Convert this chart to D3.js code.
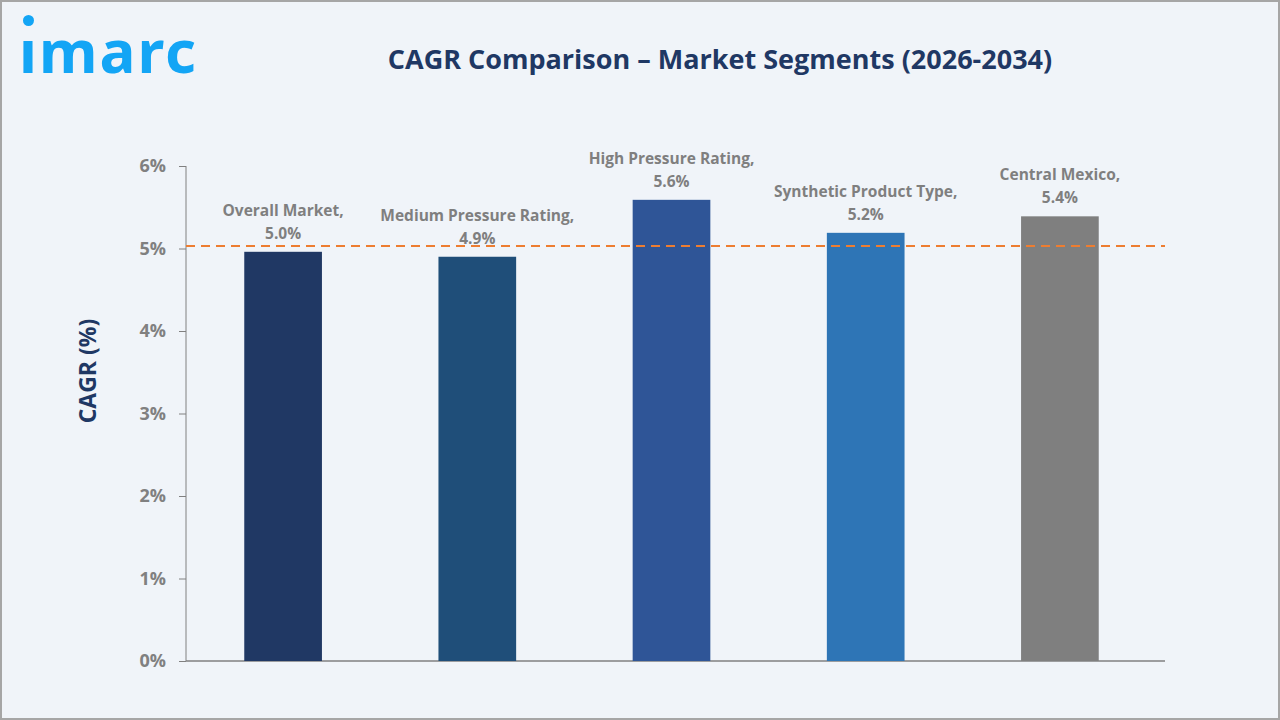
<!DOCTYPE html>
<html>
<head>
<meta charset="utf-8">
<script src="https://cdn.jsdelivr.net/npm/d3@7"></script>
<style>
  html, body { margin: 0; padding: 0; background: #f0f4f9; }
  svg { display: block; }
</style>
</head>
<body>
<div id="chart"></div>
<script>
const categories = [
  "Overall Market",
  "Medium Pressure Rating",
  "High Pressure Rating",
  "Synthetic Product Type",
  "Central Mexico"
];
const cagrValues = [4.96, 4.9, 5.59, 5.19, 5.39];
const cagrLabels = ["5.0%", "4.9%", "5.6%", "5.2%", "5.4%"];
const referenceValue = 5.03;
const yTicks = [0, 1, 2, 3, 4, 5, 6];

const barColours = ["#203864", "#1f4e79", "#2f5597", "#2e75b6", "#7f7f7f"];

const width = 1280;
const height = 720;
const margin = { top: 166, right: 115, bottom: 59, left: 186 };
const chartWidth = width - margin.left - margin.right;
const chartHeight = height - margin.top - margin.bottom;
const barsWidth = 971; // bars sit a bit short of the axis end

const svg = d3
  .select("#chart")
  .append("svg")
  .attr("width", width)
  .attr("height", height);

// background + frame
svg
  .append("rect")
  .attr("x", 1)
  .attr("y", 1)
  .attr("width", width - 2)
  .attr("height", height - 2)
  .attr("fill", "#f0f4f9")
  .attr("stroke", "#a6a6a6")
  .attr("stroke-width", 2);

// logo
svg
  .append("text")
  .attr("x", 19)
  .attr("y", 73)
  .style("font-family", "'Noto Sans', sans-serif")
  .style("font-weight", 700)
  .style("font-size", "60px")
  .style("letter-spacing", "2px")
  .style("fill", "#13a5f5")
  .text("\u0131marc");
svg
  .append("circle")
  .attr("cx", 28.5)
  .attr("cy", 20.5)
  .attr("r", 5.5)
  .attr("fill", "#13a5f5");

// title
svg
  .append("text")
  .attr("x", 720)
  .attr("y", 69)
  .attr("text-anchor", "middle")
  .style("font-family", "'Open Sans', sans-serif")
  .style("font-weight", 700)
  .style("font-size", "27px")
  .style("fill", "#1f3864")
  .text("CAGR Comparison \u2013 Market Segments (2026-2034)");

const chart = svg
  .append("g")
  .attr("transform", `translate(${margin.left},${margin.top})`);

const xScale = d3
  .scaleBand()
  .domain(categories)
  .range([0, barsWidth])
  .paddingInner(0.6)
  .paddingOuter(0.3);

const yScale = d3.scaleLinear().domain([0, 6]).range([chartHeight, 0]);

// y axis
const yAxis = d3
  .axisLeft(yScale)
  .tickValues(yTicks)
  .tickFormat(d => d + "%")
  .tickSize(7)
  .tickPadding(13);

const yy = chart.append("g").attr("class", "y axis").call(yAxis);
yy.select(".domain").attr("stroke", "#808080").attr("d", `M0,0V${chartHeight}`);
yy.selectAll(".tick line").attr("stroke", "#808080");
yy.selectAll(".tick text")
  .style("font-family", "'Open Sans', sans-serif")
  .style("font-weight", 700)
  .style("font-size", "18px")
  .style("fill", "#808080");

// x axis line only
const xx = chart
  .append("g")
  .attr("class", "x axis")
  .attr("transform", `translate(0,${chartHeight})`)
  .call(d3.axisBottom(xScale).tickSize(0).tickFormat(""));
xx.select(".domain")
  .attr("d", `M0,0H${chartWidth}`)
  .attr("stroke", "#808080")
  .attr("stroke-width", 1.5);

// bars
chart
  .selectAll(".bar")
  .data(categories)
  .enter()
  .append("rect")
  .attr("class", "bar")
  .attr("x", d => xScale(d))
  .attr("width", xScale.bandwidth())
  .attr("y", (d, i) => yScale(cagrValues[i]))
  .attr("height", (d, i) => chartHeight - yScale(cagrValues[i]))
  .attr("fill", (d, i) => barColours[i]);

// reference dashed line
chart
  .append("line")
  .attr("x1", 0)
  .attr("x2", chartWidth)
  .attr("y1", yScale(referenceValue))
  .attr("y2", yScale(referenceValue))
  .attr("stroke", "#ed7d31")
  .attr("stroke-width", 2)
  .attr("stroke-dasharray", "9,6");

// data labels
const labels = chart
  .selectAll(".bar-label")
  .data(categories)
  .enter()
  .append("text")
  .attr("class", "bar-label")
  .attr("text-anchor", "middle")
  .style("font-family", "'Open Sans', sans-serif")
  .style("font-weight", 700)
  .style("font-size", "15.5px")
  .style("fill", "#7f7f7f");

labels
  .append("tspan")
  .attr("x", d => xScale(d) + xScale.bandwidth() / 2)
  .attr("y", (d, i) => yScale(cagrValues[i]) - 36)
  .text(d => d + ",");

labels
  .append("tspan")
  .attr("x", d => xScale(d) + xScale.bandwidth() / 2)
  .attr("y", (d, i) => yScale(cagrValues[i]) - 13)
  .text((d, i) => cagrLabels[i]);

// y axis title
svg
  .append("text")
  .attr("transform", "translate(96,371) rotate(-90)")
  .attr("text-anchor", "middle")
  .style("font-family", "'Open Sans', sans-serif")
  .style("font-weight", 700)
  .style("font-size", "23px")
  .style("fill", "#1f3864")
  .text("CAGR (%)");
</script>
</body>
</html>
